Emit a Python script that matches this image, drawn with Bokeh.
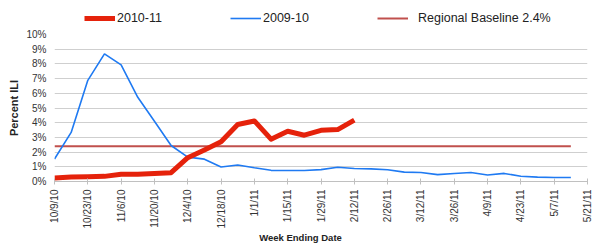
import math
from bokeh.plotting import figure
from bokeh.layouts import column
from bokeh.models import (Range1d, FixedTicker, Legend, LegendItem, Label,
                          ColumnDataSource)
from bokeh.embed import file_html
from bokeh.resources import INLINE

# ---- data (week index 0 = week ending 10/9/10) ----
tick_labels = ["10/9/10", "10/23/10", "11/6/10", "11/20/10", "12/4/10", "12/18/10",
               "1/1/11", "1/15/11", "1/29/11", "2/12/11", "2/26/11", "3/12/11",
               "3/26/11", "4/9/11", "4/23/11", "5/7/11", "5/21/11"]

ili_2010_11 = [0.24, 0.30, 0.32, 0.35, 0.50, 0.50, 0.55, 0.60, 1.62, 2.15, 2.70,
               3.88, 4.12, 2.88, 3.42, 3.15, 3.48, 3.53, 4.18]

ili_2009_10 = [1.53, 3.34, 6.88, 8.68, 7.93, 5.73, 4.10, 2.45, 1.66, 1.52, 0.99,
               1.12, 0.93, 0.76, 0.75, 0.75, 0.81, 0.97, 0.88, 0.86, 0.80, 0.64,
               0.61, 0.47, 0.54, 0.61, 0.44, 0.55, 0.36, 0.30, 0.27, 0.27]

baseline_value = 2.4
baseline_weeks = [0, 31]

series_names = ["2010-11", "2009-10", "Regional Baseline 2.4%"]

FONT = "Liberation Sans"
RED, BLUE, BASE = "#e5220b", "#1f7af2", "#c0504d"
W = 600
BL, BR = 54, 13   # left / right borders shared by all three strips

def bare(fig):
    fig.outline_line_color = None
    fig.border_fill_color = "white"
    fig.background_fill_color = "white"
    fig.xgrid.grid_line_color = None
    fig.ygrid.grid_line_color = None
    return fig

# ---------------- legend strip ----------------
pl = bare(figure(width=W, height=26, output_backend="svg", toolbar_location=None,
                 x_range=Range1d(0, 1), y_range=Range1d(0, 1),
                 x_axis_location=None, y_axis_location=None,
                 min_border_left=BL, min_border_right=BR,
                 min_border_top=0, min_border_bottom=0))
# legend-only renderers (their data lies outside the strip's visible range)
hidden = ColumnDataSource(dict(x=[-3, -2], y=[-3, -3]))
d_red = pl.line("x", "y", source=hidden, line_color=RED, line_width=5)
d_blue = pl.line("x", "y", source=hidden, line_color=BLUE, line_width=1.6)
d_base = pl.line("x", "y", source=hidden, line_color=BASE, line_width=2)
for name, rend, xloc, standoff in zip(series_names, [d_red, d_blue, d_base],
                                      [30, 176, 323], [2, 2, 10]):
    pl.add_layout(Legend(items=[LegendItem(label=name, renderers=[rend])],
                         location=(xloc, 1), orientation="horizontal",
                         glyph_width=31, glyph_height=14, label_standoff=standoff,
                         padding=0, margin=0, border_line_color=None,
                         background_fill_alpha=0, label_text_font=FONT,
                         label_text_font_size="12.5px", label_text_color="#222222",
                         label_height=14))

# ---------------- main chart ----------------
p = bare(figure(width=W, height=205, output_backend="svg", toolbar_location=None,
                x_range=Range1d(0, 32), y_range=Range1d(0, 10),
                min_border_left=BL, min_border_right=BR, min_border_top=8,
                min_border_bottom=50))

red_src = ColumnDataSource(dict(x=list(range(len(ili_2010_11))), y=ili_2010_11))
blue_src = ColumnDataSource(dict(x=list(range(len(ili_2009_10))), y=ili_2009_10))
base_src = ColumnDataSource(dict(x=baseline_weeks, y=[baseline_value] * len(baseline_weeks)))

p.line("x", "y", source=base_src, line_color=BASE, line_width=2)
p.line("x", "y", source=blue_src, line_color=BLUE, line_width=1.6)
p.line("x", "y", source=red_src, line_color=RED, line_width=5, line_join="round")

p.ygrid.ticker = FixedTicker(ticks=list(range(1, 11)))
p.ygrid.grid_line_color = "#cfcfcf"
p.ygrid.grid_line_width = 1

xa = p.xaxis[0]
xa.ticker = FixedTicker(ticks=list(range(0, 33, 2)))
xa.major_label_overrides = {i * 2: lab for i, lab in enumerate(tick_labels)}
xa.major_label_orientation = math.pi / 2
xa.major_label_text_font = FONT
xa.major_label_text_font_size = "10px"
xa.major_label_text_color = "#333333"
xa.axis_line_color = "#c0c0c0"
xa.major_tick_line_color = "#c0c0c0"
xa.major_tick_in = 3
xa.major_tick_out = 3
xa.minor_tick_line_color = None
xa.major_label_standoff = 5

ya = p.yaxis[0]
ya.ticker = FixedTicker(ticks=list(range(0, 11)))
ya.major_label_overrides = {i: f"{i}%" for i in range(11)}
ya.major_label_text_font = FONT
ya.major_label_text_font_size = "10px"
ya.major_label_text_color = "#333333"
ya.axis_line_color = None
ya.major_tick_line_color = None
ya.major_tick_out = 0
ya.major_tick_in = 0
ya.minor_tick_line_color = None
ya.major_label_standoff = 8
ya.axis_label = "Percent ILI"
ya.axis_label_text_font = FONT
ya.axis_label_text_font_style = "bold"
ya.axis_label_text_font_size = "11px"
ya.axis_label_text_color = "#222222"
ya.axis_label_standoff = 3

# ---------------- x-axis title strip ----------------
pt = bare(figure(width=W, height=19, output_backend="svg", toolbar_location=None,
                 x_range=Range1d(0, 1), y_range=Range1d(0, 1),
                 x_axis_location=None, y_axis_location=None,
                 min_border_left=BL, min_border_right=BR,
                 min_border_top=0, min_border_bottom=0))
pt.add_layout(Label(x=246, y=13, x_units="screen", y_units="screen",
                    text="Week Ending Date", text_font=FONT, text_font_style="bold",
                    text_font_size="9.5px", text_color="#222222",
                    text_align="center", text_baseline="middle"))

layout = column(pl, p, pt, spacing=0)
open("out.html", "w").write(file_html(layout, INLINE))
